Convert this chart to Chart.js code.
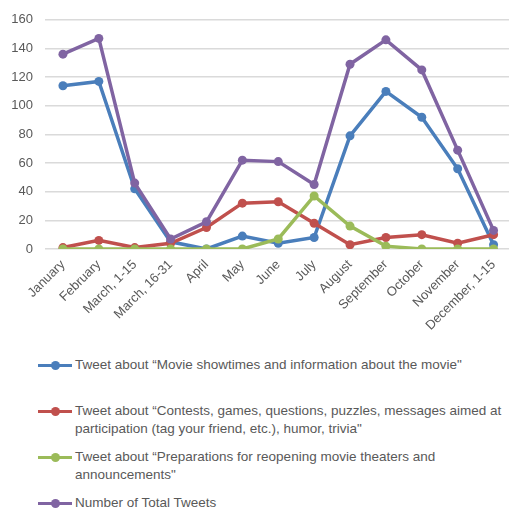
<!DOCTYPE html>
<html>
<head>
<meta charset="utf-8">
<script src="https://cdn.jsdelivr.net/npm/chart.js@4"></script>
<style>
  body { margin: 0; background: #fff; overflow: hidden; width: 509px; height: 512px; position: relative; }
  #wrap { position: absolute; left: 0; top: 0; width: 516px; height: 345px; }
  .leg { position: absolute; left: 0; font-family: "Liberation Sans", Arial, sans-serif; font-size: 13.5px; color: #595959; line-height: 18px; }
  .leg .mk { position: absolute; left: 38px; top: 8px; width: 34px; height: 3px; }
  .leg .mk i { position: absolute; left: 13px; top: -3px; width: 9px; height: 9px; border-radius: 50%; }
  .leg .tx { position: absolute; left: 75px; top: 0; white-space: nowrap; }
</style>
</head>
<body>
<div id="wrap"><canvas id="tweetChart" width="516" height="345"></canvas></div>
<div id="legend"></div>
<script>
const months = ['January', 'February', 'March, 1-15', 'March, 16-31', 'April', 'May', 'June',
                'July', 'August', 'September', 'October', 'November', 'December, 1-15'];

const showtimes = [114, 117, 42, 5, 0, 9, 4, 8, 79, 110, 92, 56, 3];
const contests  = [1, 6, 1, 4, 15, 32, 33, 18, 3, 8, 10, 4, 10];
const reopening = [0, 0, 0, 0, 0, 0, 7, 37, 16, 2, 0, 0, 0];
const totals    = [136, 147, 46, 7, 19, 62, 61, 45, 129, 146, 125, 69, 13];

const seriesNames = [
    ['Tweet about \u201cMovie showtimes and information about the movie"'],
    ['Tweet about \u201cContests, games, questions, puzzles, messages aimed at', 'participation (tag your friend, etc.), humor, trivia"'],
    ['Tweet about \u201cPreparations for reopening movie theaters and', 'announcements"'],
    ['Number of Total Tweets']
];
const colors = ['#4a7ebb', '#c0504d', '#9bbb59', '#8064a2'];
const legendTops = [356, 402, 448, 494];

function makeSet(i, values) {
    return {
        label: seriesNames[i].join(' '),
        data: values,
        borderColor: colors[i],
        backgroundColor: colors[i],
        borderWidth: 3.5,
        pointRadius: 4.5,
        pointBorderWidth: 0,
        tension: 0,
        order: 4 - i
    };
}

const ctx = document.getElementById('tweetChart').getContext('2d');
new Chart(ctx, {
    type: 'line',
    data: {
        labels: months,
        datasets: [
            makeSet(0, showtimes),
            makeSet(1, contests),
            makeSet(2, reopening),
            makeSet(3, totals)
        ]
    },
    options: {
        responsive: false,
        animation: false,
        layout: { padding: { top: 15, left: 0, right: 0, bottom: 0 } },
        plugins: { legend: { display: false }, tooltip: { enabled: false } },
        scales: {
            x: {
                offset: true,
                grid: { display: false, drawTicks: false },
                border: { display: false },
                ticks: {
                    autoSkip: false,
                    minRotation: 45,
                    maxRotation: 45,
                    padding: 8,
                    color: '#595959',
                    font: { family: '"Liberation Sans", Arial, sans-serif', size: 13 }
                },
                afterFit: function(scale) { scale.height = 345 - 249; }
            },
            y: {
                min: 0,
                max: 160,
                grid: { color: '#dadada', lineWidth: 1.6, drawTicks: false },
                border: { display: false },
                ticks: {
                    stepSize: 20,
                    padding: 12,
                    color: '#595959',
                    font: { family: '"Liberation Sans", Arial, sans-serif', size: 13 }
                },
                afterFit: function(scale) { scale.width = 45; }
            }
        }
    }
});

// legend under the chart, one entry per series, wrapped like the original labels
const legend = document.getElementById('legend');
seriesNames.forEach((lines, i) => {
    const row = document.createElement('div');
    row.className = 'leg';
    row.style.top = legendTops[i] + 'px';
    row.innerHTML = '<div class="mk" style="background:' + colors[i] + '"><i style="background:' + colors[i] + '"></i></div>' +
        '<div class="tx">' + lines.join('<br>') + '</div>';
    legend.appendChild(row);
});
</script>
</body>
</html>
